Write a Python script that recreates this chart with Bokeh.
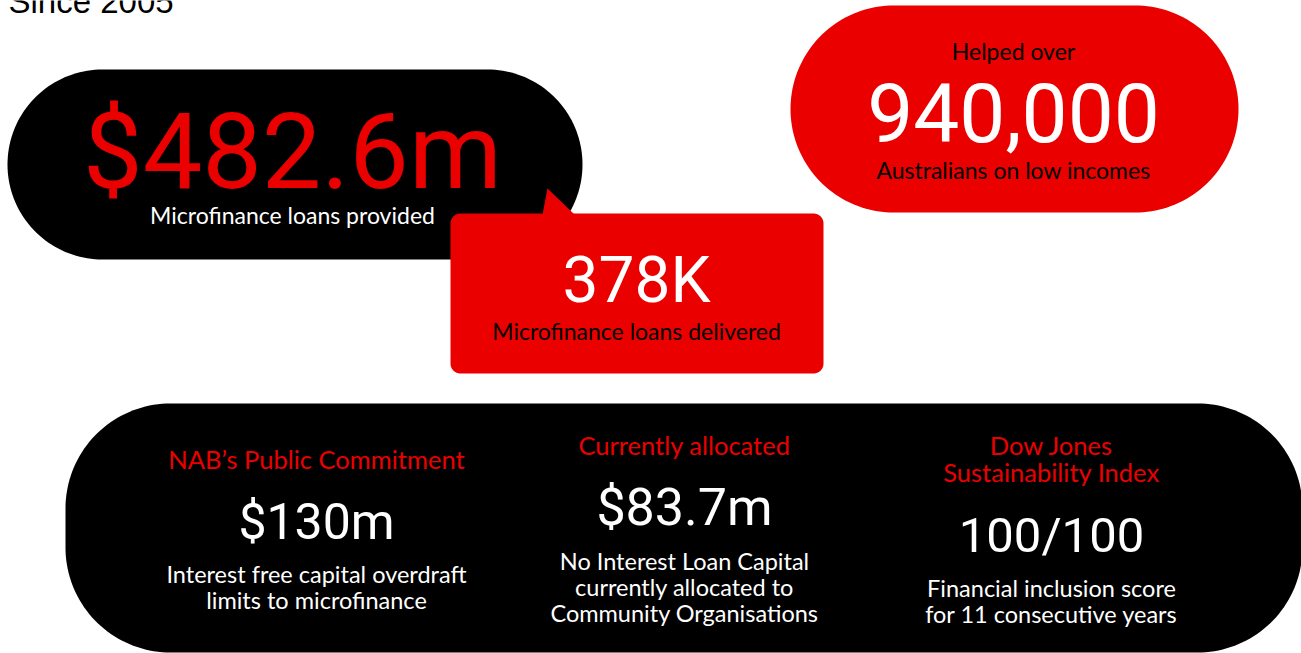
import numpy as np
from bokeh.plotting import figure
from bokeh.models import Range1d
from bokeh.core.properties import value
from bokeh.embed import file_html
from bokeh.resources import INLINE

# ---------------- data (text content of the infographic) ----------------
subtitle = ["Since 2005"]
headline_values = ["$482.6m", "378K", "940,000"]
headline_prefix = ["Helped over"]
headline_captions = ["Microfinance loans provided",
                     "Microfinance loans delivered",
                     "Australians on low incomes"]
commit_titles = [["NAB\u2019s Public Commitment"],
                 ["Currently allocated"],
                 ["Dow Jones", "Sustainability Index"]]
commit_values = ["$130m", "$83.7m", "100/100"]
commit_captions = [["Interest free capital overdraft", "limits to microfinance"],
                   ["No Interest Loan Capital", "currently allocated to", "Community Organisations"],
                   ["Financial inclusion score", "for 11 consecutive years"]]

# ---------------- styling ----------------
RED = "#EB0000"
BLACK = "#000000"
WHITE = "#FFFFFF"
NUM_FONT = value("Roboto")
CAP_FONT = value("Lato")
BASE_SHIFT = 0.34  # baseline correction (fraction of font size)

W, H = 1301, 653
p = figure(width=W, height=H, x_range=Range1d(0, W), y_range=Range1d(H, 0),
           output_backend="svg", toolbar_location=None, min_border=0)
p.axis.visible = False
p.grid.visible = False
p.outline_line_color = None
p.background_fill_color = WHITE
p.border_fill_color = WHITE


def rounded_rect(l, t, r, b, rad, n=40):
    xs, ys = [], []
    corners = [(r - rad, t + rad, -np.pi / 2, 0), (r - rad, b - rad, 0, np.pi / 2),
               (l + rad, b - rad, np.pi / 2, np.pi), (l + rad, t + rad, np.pi, 1.5 * np.pi)]
    for cx, cy, a0, a1 in corners:
        a = np.linspace(a0, a1, n)
        xs.extend(cx + rad * np.cos(a))
        ys.extend(cy + rad * np.sin(a))
    return xs, ys


# shapes
for (l, t, r, b, rad, col) in [(7, 69, 582, 259, 95, BLACK),
                               (790, 5, 1238, 212, 103.5, RED),
                               (65, 403, 1302, 652, 105, BLACK),
                               (450, 213, 823, 373, 10, RED)]:
    xs, ys = rounded_rect(l, t, r, b, rad)
    p.patch(xs, ys, fill_color=col, line_color=None)
p.patch([542, 547, 574], [214, 188, 214], fill_color=RED, line_color=None)


def txt(x, y, s, size, color, font, align="center"):
    p.text(x=[x], y=[y - BASE_SHIFT * size], text=[s], text_font=font,
           text_font_size=f"{size}px", text_color=color, text_align=align,
           text_baseline="alphabetic")


# subtitle
txt(8, 12, subtitle[0], 33, BLACK, value("Liberation Sans"), align="left")

# headline bubbles
hx = [292, 636, 1013]
hy = [188, 302, 140]
hsize = [106, 64, 82]
hcol = [RED, WHITE, WHITE]
for i in range(3):
    txt(hx[i], hy[i], headline_values[i], hsize[i], hcol[i], NUM_FONT)
cy = [222, 338, 177]
ccol = [WHITE, BLACK, BLACK]
for i in range(3):
    txt(hx[i], cy[i], headline_captions[i], 23, ccol[i], CAP_FONT)
txt(1013, 58, headline_prefix[0], 23, BLACK, CAP_FONT)

# commitment columns
colx = [316, 684, 1051]
title_base = [467, 453, 453]
value_base = [538, 525, 552]
value_size = [50, 52, 49]
cap_base = [581, 568, 595]
LINE = 26
for i in range(3):
    for j, s in enumerate(commit_titles[i]):
        txt(colx[i], title_base[i] + j * 27, s, 25.5, RED, CAP_FONT)
    txt(colx[i], value_base[i], commit_values[i], value_size[i], WHITE, NUM_FONT)
    for j, s in enumerate(commit_captions[i]):
        txt(colx[i], cap_base[i] + j * LINE, s, 23.5, WHITE, CAP_FONT)

open("out.html", "w").write(file_html(p, INLINE))
